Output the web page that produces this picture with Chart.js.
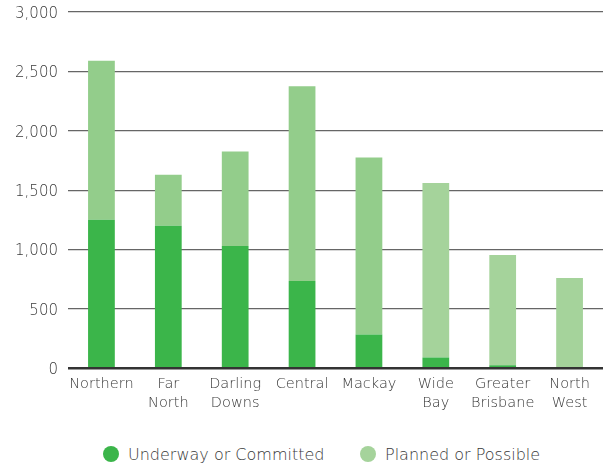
<!DOCTYPE html>
<html>
<head>
<meta charset="utf-8">
<script src="https://cdn.jsdelivr.net/npm/chart.js@4"></script>
<style>
  html, body { margin: 0; padding: 0; background: #fff; }
  #wrap { position: relative; width: 603px; height: 466px; }
  #legend {
    position: absolute; left: 0; top: 445px; width: 603px; height: 18px;
    font-family: 'DejaVu Sans', sans-serif; font-size: 16px; font-weight: 300; color: #383838;
  }
  .item { position: absolute; top: 0; height: 18px; display: flex; align-items: center; white-space: nowrap; }
  .dot { width: 16px; height: 16px; border-radius: 50%; margin-right: 9px; }
</style>
</head>
<body>
<div id="wrap">
  <canvas id="chart" width="603" height="430"></canvas>
  <div id="legend"></div>
</div>
<script>
const regions = [["Northern"], ["Far", "North"], ["Darling", "Downs"], ["Central"], ["Mackay"], ["Wide", "Bay"], ["Greater", "Brisbane"], ["North", "West"]];
const underway = [1250, 1200, 1030, 735, 285, 90, 25, 0];
const planned = [1340, 430, 795, 1640, 1490, 1470, 930, 760];
const yTicks = [0, 500, 1000, 1500, 2000, 2500, 3000];

const darkGreen = '#3bb54a';
const lightGreen = ['#93cd8b', '#93cd8b', '#93cd8b', '#93cd8b', '#93cd8b', '#a5d39b', '#a5d39b', '#a5d39b'];

const fontFam = "'DejaVu Sans', sans-serif";
const textColor = '#383838';

const ctx = document.getElementById('chart').getContext('2d');
const chart = new Chart(ctx, {
  type: 'bar',
  data: {
    labels: regions,
    datasets: [
      {
        label: 'Underway or Committed',
        data: underway,
        backgroundColor: darkGreen,
        barPercentage: 0.4,
        categoryPercentage: 1.0
      },
      {
        label: 'Planned or Possible',
        data: planned,
        backgroundColor: lightGreen,
        barPercentage: 0.4,
        categoryPercentage: 1.0
      }
    ]
  },
  options: {
    responsive: false,
    animation: false,
    layout: { padding: { top: 2, right: 0, left: 0, bottom: 10 } },
    scales: {
      x: {
        stacked: true,
        grid: { display: false, drawTicks: false },
        border: { display: false },
        ticks: {
          color: textColor,
          font: { family: fontFam, size: 14.5, weight: 300, lineHeight: 1.3 },
          padding: 7,
          maxRotation: 0,
          autoSkip: false
        }
      },
      y: {
        stacked: true,
        min: 0,
        max: 3000,
        afterBuildTicks: function(axis) {
          axis.ticks = yTicks.map(v => ({ value: v }));
        },
        grid: {
          drawTicks: false,
          color: function(c) { return c.tick && c.tick.value === 0 ? '#333' : '#666'; },
          lineWidth: function(c) { return c.tick && c.tick.value === 0 ? 2.5 : 1.3; }
        },
        border: { display: false },
        afterFit: function(axis) {
          axis.width = 68;
          axis.paddingTop = 12;
        },
        ticks: {
          color: textColor,
          font: { family: fontFam, size: 15, weight: 300 },
          padding: 10,
          labelOffset: 2,
          callback: function(v) { return v.toLocaleString('en-US'); }
        }
      }
    },
    plugins: {
      legend: { display: false },
      tooltip: { enabled: false }
    }
  }
});

// html legend under the canvas
const legendPos = [103, 360];
const legendColors = [darkGreen, '#a5d39b'];
chart.data.datasets.forEach(function(ds, i) {
  const item = document.createElement('div');
  item.className = 'item';
  item.style.left = legendPos[i] + 'px';
  const dot = document.createElement('span');
  dot.className = 'dot';
  dot.style.background = legendColors[i];
  const txt = document.createElement('span');
  txt.innerText = ds.label;
  item.appendChild(dot);
  item.appendChild(txt);
  document.getElementById('legend').appendChild(item);
});
</script>
</body>
</html>
